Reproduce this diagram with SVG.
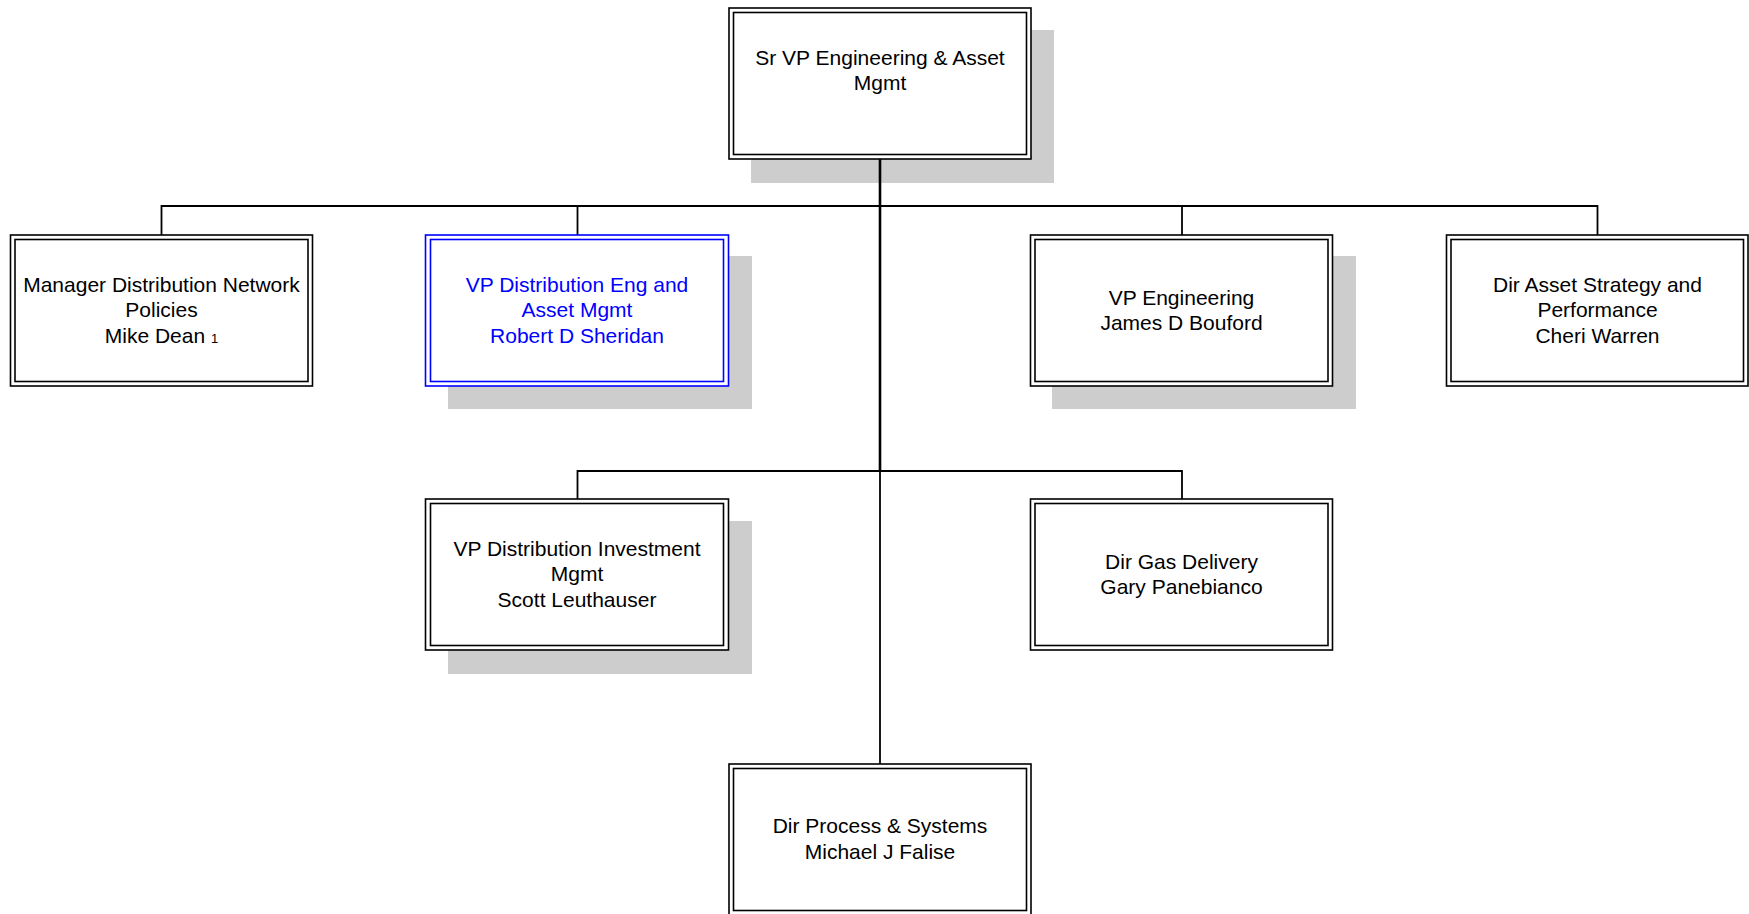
<svg xmlns="http://www.w3.org/2000/svg" width="1749" height="914" viewBox="0 0 1749 914">
<style>
.shadow{fill:#cdcdcd;stroke:none}
.box{fill:#ffffff;stroke:#000000;stroke-width:1.6}
.inner{fill:none;stroke:#000000;stroke-width:1.6}
.sel .box,.sel .inner{stroke:#0000ff}
text{font-family:"Liberation Sans",Arial,sans-serif;font-size:21px;fill:#000000;text-anchor:middle}
.sel text{fill:#0000ff}
.small{font-size:13px}
.conn{stroke:#000000;stroke-width:1.8;fill:none}
</style>
<rect width="1749" height="914" fill="#ffffff"/>
<g id="shadows">
<rect class="shadow" x="751" y="30" width="303" height="153"/>
<rect class="shadow" x="448" y="256" width="304" height="153"/>
<rect class="shadow" x="1052" y="256" width="304" height="153"/>
<rect class="shadow" x="448" y="521" width="304" height="153"/>
</g>
<g id="connectors">
<line class="conn" x1="880" y1="159" x2="880" y2="471" style="stroke-width:2.6"/>
<line class="conn" x1="880" y1="471" x2="880" y2="764"/>
<polyline class="conn" points="161.5,235 161.5,206 1597.5,206 1597.5,235"/>
<line class="conn" x1="577.5" y1="206" x2="577.5" y2="235"/>
<line class="conn" x1="1182" y1="206" x2="1182" y2="235"/>
<polyline class="conn" points="577.5,499 577.5,471 1182,471 1182,499"/>
</g>
<g id="n-top">
<rect class="box" x="729" y="8" width="302" height="151"/>
<rect class="inner" x="733.5" y="12.5" width="293" height="142"/>
<text x="880" y="64.5">Sr VP Engineering &amp; Asset</text>
<text x="880" y="90">Mgmt</text>
</g>
<g id="n-mgr">
<rect class="box" x="10.5" y="235" width="302" height="151"/>
<rect class="inner" x="15" y="239.5" width="293" height="142"/>
<text x="161.5" y="291.5">Manager Distribution Network</text>
<text x="161.5" y="317">Policies</text>
<text x="161.5" y="342.5">Mike Dean <tspan class="small">1</tspan></text>
</g>
<g id="n-vpdist" class="sel">
<rect class="box" x="425.5" y="235" width="303" height="151"/>
<rect class="inner" x="430.5" y="239.5" width="293" height="142"/>
<text x="577" y="291.5">VP Distribution Eng and</text>
<text x="577" y="317">Asset Mgmt</text>
<text x="577" y="342.5">Robert D Sheridan</text>
</g>
<g id="n-vpeng">
<rect class="box" x="1030.5" y="235" width="302" height="151"/>
<rect class="inner" x="1035" y="239.5" width="293" height="142"/>
<text x="1181.5" y="304.5">VP Engineering</text>
<text x="1181.5" y="330">James D Bouford</text>
</g>
<g id="n-asset">
<rect class="box" x="1446.5" y="235" width="301.5" height="151"/>
<rect class="inner" x="1451" y="239.5" width="292.5" height="142"/>
<text x="1597.5" y="291.5">Dir Asset Strategy and</text>
<text x="1597.5" y="317">Performance</text>
<text x="1597.5" y="342.5">Cheri Warren</text>
</g>
<g id="n-invest">
<rect class="box" x="425.5" y="499" width="303" height="151"/>
<rect class="inner" x="430.5" y="503.5" width="293" height="142"/>
<text x="577" y="555.5">VP Distribution Investment</text>
<text x="577" y="581">Mgmt</text>
<text x="577" y="606.5">Scott Leuthauser</text>
</g>
<g id="n-gas">
<rect class="box" x="1030.5" y="499" width="302" height="151"/>
<rect class="inner" x="1035" y="503.5" width="293" height="142"/>
<text x="1181.5" y="568.5">Dir Gas Delivery</text>
<text x="1181.5" y="594">Gary Panebianco</text>
</g>
<g id="n-process">
<rect class="box" x="729" y="764" width="302" height="151"/>
<rect class="inner" x="733.5" y="768.5" width="293" height="142"/>
<text x="880" y="833">Dir Process &amp; Systems</text>
<text x="880" y="858.5">Michael J Falise</text>
</g>
</svg>
